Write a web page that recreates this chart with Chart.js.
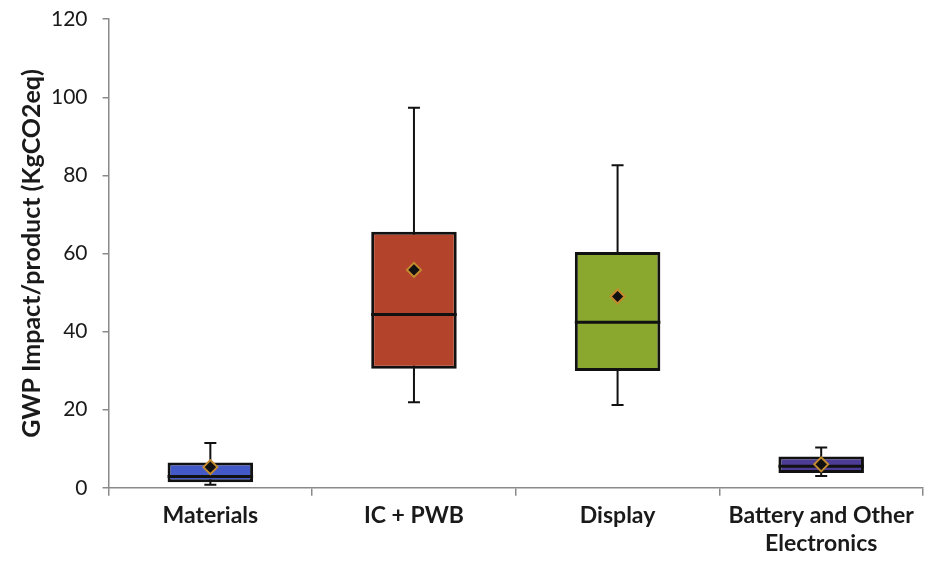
<!DOCTYPE html>
<html>
<head>
<meta charset="utf-8">
<script src="https://cdn.jsdelivr.net/npm/chart.js@4"></script>
<style>
  html, body { margin: 0; padding: 0; background: #ffffff; }
  #wrap { width: 932px; height: 563px; }
</style>
</head>
<body>
<div id="wrap"><canvas id="c" width="932" height="563"></canvas></div>
<script>
// GWP impact per product, by component group (box-and-whisker summary)
const categories = ['Materials', 'IC + PWB', 'Display', ['Battery and Other', 'Electronics']];
const whiskerLow  = [0.8, 21.9, 21.2, 3.0];
const q1          = [1.4, 30.5, 29.9, 3.8];
const median      = [2.9, 44.4, 42.4, 5.5];
const q3          = [6.5, 65.6, 60.4, 8.0];
const whiskerHigh = [11.5, 97.3, 82.6, 10.3];
const meanValues  = [5.3, 55.8, 49.0, 6.0];
const boxColors   = ['#4459c8', '#b4432b', '#8aa82e', '#4c3c96'];
const yTicks      = [0, 20, 40, 60, 80, 100, 120];

const FONT = 'Lato, "Open Sans", sans-serif';

// whiskers go behind the boxes, median lines on top
const boxPlotLines = {
  id: 'boxPlotLines',
  beforeDatasetsDraw(chart) {
    const { ctx, scales: { x, y } } = chart;
    ctx.save();
    ctx.strokeStyle = '#111';
    ctx.lineWidth = 2;
    categories.forEach((c, i) => {
      const cx = x.getPixelForValue(i);
      const yLo = y.getPixelForValue(whiskerLow[i]);
      const yHi = y.getPixelForValue(whiskerHigh[i]);
      const cap = 6;
      ctx.beginPath();
      ctx.moveTo(cx, yLo); ctx.lineTo(cx, yHi);
      ctx.moveTo(cx - cap, yLo); ctx.lineTo(cx + cap, yLo);
      ctx.moveTo(cx - cap, yHi); ctx.lineTo(cx + cap, yHi);
      ctx.stroke();
    });
    ctx.restore();
  },
  afterDatasetDraw(chart, args) {
    if (args.index !== 0) return;
    const { ctx, scales: { y } } = chart;
    const meta = chart.getDatasetMeta(0);
    ctx.save();
    ctx.strokeStyle = '#111';
    ctx.lineWidth = 3;
    meta.data.forEach((bar, i) => {
      const ym = y.getPixelForValue(median[i]);
      const half = bar.width / 2;
      ctx.beginPath();
      ctx.moveTo(bar.x - half, ym); ctx.lineTo(bar.x + half, ym);
      ctx.stroke();
    });
    ctx.restore();
  }
};

new Chart(document.getElementById('c'), {
  data: {
    labels: categories,
    datasets: [
      {
        type: 'bar',
        label: 'Interquartile range',
        data: q1.map((v, i) => [v, q3[i]]),
        backgroundColor: boxColors,
        borderColor: '#111',
        borderWidth: 3,
        borderSkipped: false,
        barPercentage: 0.42,
        categoryPercentage: 1.0,
        order: 2
      },
      {
        type: 'line',
        label: 'Mean',
        data: meanValues,
        showLine: false,
        pointStyle: 'rectRot',
        pointRadius: 7,
        pointBackgroundColor: '#111',
        pointBorderColor: '#c48a2e',
        pointBorderWidth: 2,
        order: 1
      }
    ]
  },
  options: {
    responsive: false,
    animation: false,
    layout: { padding: { top: 0, right: 0, left: 4, bottom: 0 } },
    plugins: {
      legend: { display: false },
      tooltip: { enabled: false }
    },
    scales: {
      x: {
        type: 'category',
        offset: true,
        grid: {
          offset: true,
          drawOnChartArea: false,
          drawTicks: true,
          tickLength: 8,
          color: '#8a8a8a',
          lineWidth: 1.5
        },
        border: { display: true, color: '#8a8a8a', width: 1.5 },
        ticks: {
          color: '#1a1a1a',
          padding: 6,
          maxRotation: 0,
          font: { family: FONT, size: 23, weight: 'bold', lineHeight: 1.2 }
        }
      },
      y: {
        min: 0,
        max: 120,
        afterBuildTicks(axis) { axis.ticks = yTicks.map(v => ({ value: v })); },
        grid: {
          drawOnChartArea: false,
          drawTicks: true,
          tickLength: 6,
          color: '#8a8a8a',
          lineWidth: 1.5
        },
        border: { display: true, color: '#8a8a8a', width: 1.5 },
        ticks: {
          color: '#1a1a1a',
          padding: 15,
          font: { family: FONT, size: 21, lineHeight: 0.4 }
        },
        title: {
          display: true,
          text: 'GWP Impact/product (KgCO2eq)',
          color: '#1a1a1a',
          padding: { top: 13, bottom: -11 },
          font: { family: FONT, size: 25, weight: 'bold' }
        }
      }
    }
  },
  plugins: [boxPlotLines]
});
</script>
</body>
</html>
